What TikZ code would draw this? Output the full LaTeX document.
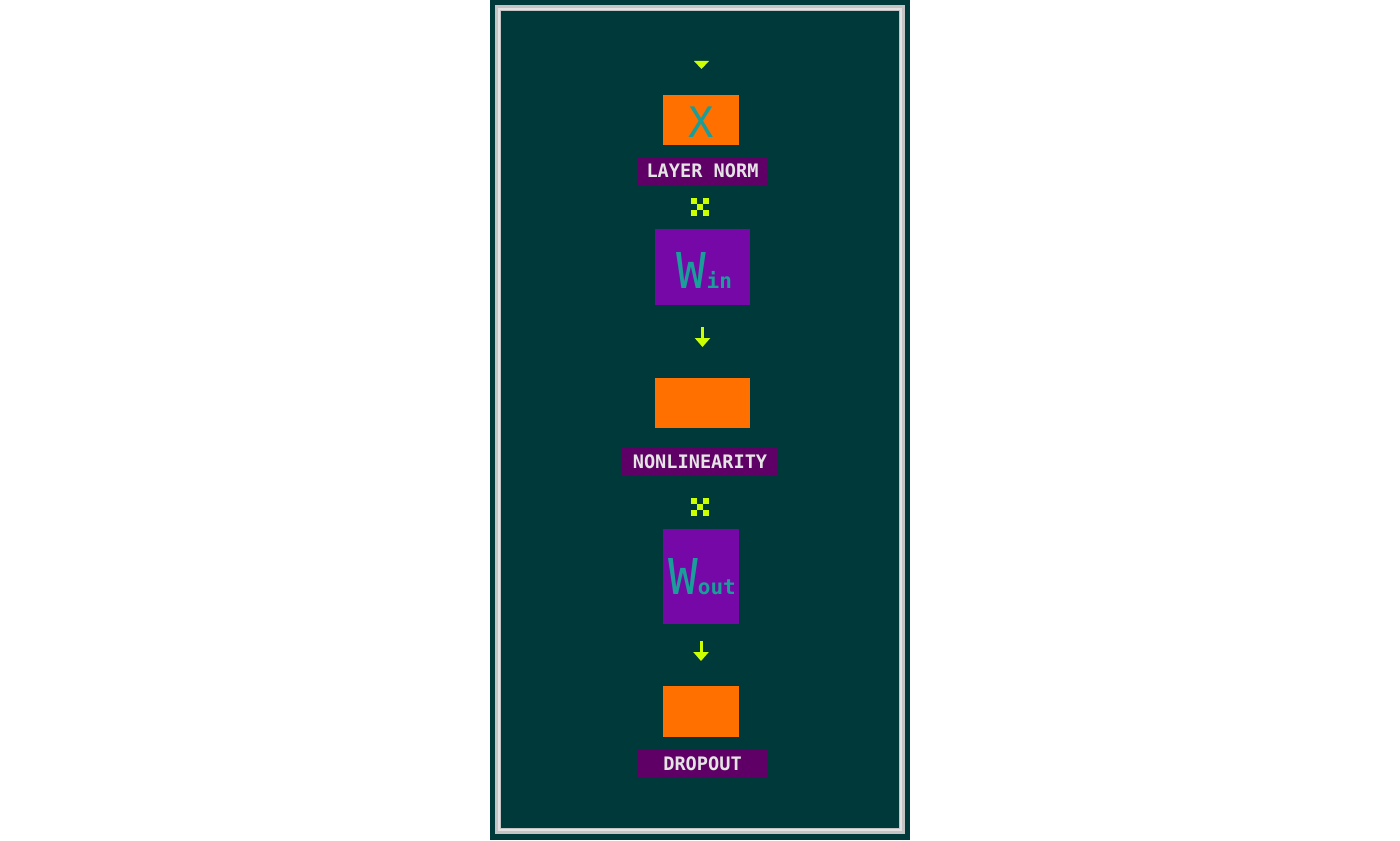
\documentclass[tikz,border=0pt]{standalone}
\usepackage{fontspec}
\setmonofont{DejaVu Sans Mono}
\usetikzlibrary{arrows.meta}
\definecolor{bgdark}{HTML}{00393A}
\definecolor{frameg}{HTML}{C4C4C4}
\definecolor{frameh}{HTML}{E2E2E2}
\definecolor{orng}{HTML}{FF7000}
\definecolor{purp}{HTML}{7608A8}
\definecolor{labp}{HTML}{5F0066}
\definecolor{labt}{HTML}{E4E4E4}
\definecolor{teal}{HTML}{1A9E9A}
\definecolor{yel}{HTML}{CCFF00}
\tikzset{
  box/.style={rectangle, inner sep=0pt, outer sep=0pt},
  obox/.style={box, fill=orng},
  pbox/.style={box, fill=purp},
  lab/.style={box, fill=labp, text=labt, font=\ttfamily\bfseries\fontsize{9.3}{10}\selectfont, minimum height=14pt},
  glyph/.style={inner sep=0pt, outer sep=0pt, text=teal, font=\ttfamily},
  arr/.style={draw=yel, line width=1.5pt, -{Triangle[width=7.5pt,length=4.5pt,fill=yel]}},
  mulx/.pic={
    \fill[yel] (-9,-9) rectangle (-3,-3);
    \fill[yel] (3,-9) rectangle (9,-3);
    \fill[yel] (-3,-3) rectangle (3,3);
    \fill[yel] (-9,3) rectangle (-3,9);
    \fill[yel] (3,3) rectangle (9,9);
  }
}
\begin{document}
\begin{tikzpicture}[x=0.5pt,y=-0.5pt]
\useasboundingbox (0,0) rectangle (1400,840);
\fill[white] (0,0) rectangle (1400,840);
\fill[bgdark] (490,0) rectangle (910,840);
\draw[frameg, line width=3pt] (498,8) rectangle (902,831);
\draw[frameh, line width=0.8pt] (499,9) rectangle (901,830);

% input arrowhead
\coordinate (topin) at (701.5,61);
\fill[yel] ([xshift=-3.75pt]topin) -- ([xshift=3.75pt]topin) -- ([yshift=-4pt]topin) -- cycle;

% X box
\node[obox, minimum width=38pt, minimum height=25pt] (x) at (701,120) {};
\node[glyph, anchor=base] (xt) at (701.5,137) {\fontsize{21}{21}\selectfont X};

% layer norm label
\node[lab, minimum width=64.5pt] (ln) at (702.5,171) {LAYER NORM};

% multiply
\pic at (700,207) {mulx};

% W_in
\node[pbox, minimum width=47.5pt, minimum height=38pt] (win) at (702.5,267) {};
\node[glyph, anchor=base] (wint) at (704.5,288) {\fontsize{24.7}{25}\selectfont W\fontsize{10.5}{11}\selectfont\bfseries in};

% nonlinearity
\node[obox, minimum width=47.5pt, minimum height=25pt] (nl) at (702.5,403) {};
\node[lab, minimum width=78pt] (nll) at (700,462) {NONLINEARITY};
\draw[arr, shorten <=11pt, shorten >=15.5pt] (win.south) -- (nl.north);

% multiply
\pic at (700,506.5) {mulx};

% W_out
\node[pbox, minimum width=38pt, minimum height=47.5pt] (wout) at (701,576.5) {};
\node[glyph, anchor=base] (woutt) at (702,594) {\fontsize{24.7}{25}\selectfont W\fontsize{10.5}{11}\selectfont\bfseries out};

% dropout
\node[obox, minimum width=38pt, minimum height=25.5pt] (drop) at (701,711.5) {};
\node[lab, minimum width=64.5pt] (dol) at (702.5,764) {DROPOUT};
\draw[arr, shorten <=8.5pt, shorten >=12.5pt] (wout.south) -- (drop.north);
\end{tikzpicture}
\end{document}
